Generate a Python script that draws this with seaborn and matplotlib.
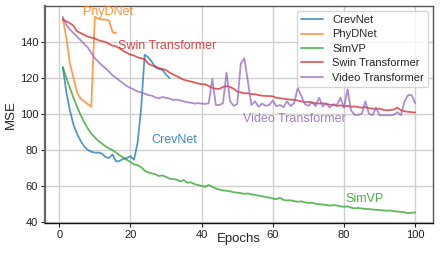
import numpy as np
import pandas as pd
import matplotlib
matplotlib.use('Agg')
import matplotlib.pyplot as plt
import seaborn as sns

# Per-epoch MSE curves
crevnet = [126, 112, 102, 94, 89, 85, 82, 80, 79, 78.5, 78.5, 78, 76, 75.5, 77.5,
           73.5, 74, 75, 75.5, 76.5, 74.5, 84, 103, 133, 131.5, 129, 126, 125,
           124.5, 122, 120]

phydnet = [153, 142, 128, 120, 112, 108.5, 107, 105.5, 104, 154, 153, 152.5,
           152.5, 152, 145.5, 145]

simvp = [126, 120, 114.5, 109, 104, 99.5, 95.5, 92, 89, 87,
         85, 83.5, 82, 80.8, 79.8, 78.5, 77, 75.8, 74.5, 73.3,
         72, 71.5, 70.5, 68.5, 67.5, 67, 66.5, 65.5, 65.8, 65,
         64, 63.8, 63.5, 62.5, 63.2, 61.8, 62, 61, 60.5, 60,
         59.5, 60.5, 59.5, 58.5, 58, 57.5, 57.3, 57, 56.5, 56.2,
         56, 55.6, 55.8, 55.3, 55, 54.6, 54.2, 53.8, 53.5, 53,
         52.6, 53.4, 52.2, 51.9, 52, 51.5, 51.2, 51.4, 50.8, 50.5,
         50.6, 50.1, 49.8, 49.6, 49.4, 49, 49.3, 49.1, 48.6, 48.4,
         48.6, 47.9, 47.5, 47.7, 47.4, 47.2, 47.1, 46.9, 46.7, 46.6,
         46.4, 46.2, 46.3, 45.9, 45.7, 45.6, 45.3, 44.8, 45.1, 45.2]

swin = [152.5, 151.5, 150.5, 149, 146, 145, 144, 143, 142.5, 142,
        141, 140.5, 140, 139, 138, 137.5, 136.5, 135, 134, 133,
        132.5, 131.5, 131, 130.5, 128, 127, 126.5, 125.5, 125, 124.5,
        123, 122, 121, 120, 119, 118.5, 118, 117.5, 117, 116.5,
        116.5, 115.5, 114.5, 114, 114, 115, 115.5, 115, 114, 112.5,
        112, 111.5, 111.5, 111, 111, 110.5, 110.2, 110, 110, 109.8,
        109, 108.8, 108.5, 108.2, 108, 107.8, 107.5, 107, 106.5, 106.8,
        106.3, 106, 105.8, 106, 105.5, 105.2, 105, 104.5, 104.8, 104.2,
        104.5, 104, 104.2, 103.8, 103.5, 103.8, 103.2, 103, 102.8, 103,
        102.3, 102, 102.2, 102.5, 103.5, 102, 101.5, 101.2, 101, 100.8]

video = [154, 149.5, 147, 145, 143, 141, 139, 137, 134, 131,
         129, 127, 125.5, 123.5, 121.5, 120, 118.5, 117, 115.5, 114.5,
         113.5, 112.5, 112, 111.3, 110.5, 110.2, 109.2, 108.8, 109.4, 109,
         108.5, 107.8, 108, 107.5, 107, 106.5, 106.3, 105.8, 106, 105.8,
         105.6, 106, 119.5, 105, 105, 106, 123, 107, 104.5, 105.5,
         128, 131, 118, 105, 107, 104, 105.8, 104.5, 105, 107.5,
         104.3, 105, 103.8, 107, 104.4, 106, 114.4, 110, 105.5, 104.5,
         106.7, 104.3, 109, 104.3, 106, 103.6, 105.4, 105, 109, 103.5,
         113.7, 102, 99.5, 99.5, 100.2, 107, 100.2, 99.3, 103.5, 99.3,
         99.3, 99.3, 99.3, 99.5, 101, 99.3, 107, 110.5, 110.5, 106]

names = ['CrevNet', 'PhyDNet', 'SimVP', 'Swin Transformer', 'Video Transformer']
series = [crevnet, phydnet, simvp, swin, video]
colors = ['#1f77b4', '#ff7f0e', '#2ca02c', '#d62728', '#9467bd']

# in-plot labels: (x, y) in data units
label_pos = [(26, 85.5), (6.7, 156.5), (80.3, 52.8), (16.5, 138), (51.6, 97)]

sns.set_style('whitegrid', {'grid.color': '#d0d0d0', 'axes.edgecolor': '#444444'})
plt.rcParams['font.family'] = ['Liberation Sans', 'DejaVu Sans']

fig, ax = plt.subplots(figsize=(4.43, 2.54), dpi=100)
fig.subplots_adjust(left=0.102, right=0.977, top=0.976, bottom=0.123)

for name, vals, c in zip(names, series, colors):
    epochs = np.arange(1, len(vals) + 1)
    sns.lineplot(x=epochs, y=vals, ax=ax, label=name, color=c, alpha=0.75, linewidth=1.3)

for name, (tx, ty), c in zip(names, label_pos, colors):
    ax.text(tx, ty, name, color=c, alpha=0.85, fontsize=9, va='center', ha='left')

ax.set_xlim(-3.95, 104.95)
ax.set_ylim(39.5, 160)
ax.set_xticks([0, 20, 40, 60, 80, 100])
ax.set_yticks([40, 60, 80, 100, 120, 140])
ax.tick_params(labelsize=8, length=3, width=0.8, colors='#222222', pad=2)
ax.tick_params(axis='both', which='both', bottom=True, left=True)
ax.grid(True, linewidth=1.0)

for side in ['top', 'right']:
    ax.spines[side].set_color('#555555')
    ax.spines[side].set_linewidth(1.0)
ax.spines['left'].set_color('#666666')
ax.spines['left'].set_linewidth(1.6)
ax.spines['bottom'].set_color('#111111')
ax.spines['bottom'].set_linewidth(1.0)

ax.set_xlabel('Epochs', fontsize=9.5, labelpad=-5)
ax.set_ylabel('MSE', fontsize=9.5, labelpad=2)

leg = ax.legend(loc='upper right', fontsize=8, labelspacing=0.4, handlelength=2.0,
                borderaxespad=0.4, frameon=True)
leg.get_frame().set_edgecolor('#cccccc')

fig.savefig('out.png', dpi=100)
